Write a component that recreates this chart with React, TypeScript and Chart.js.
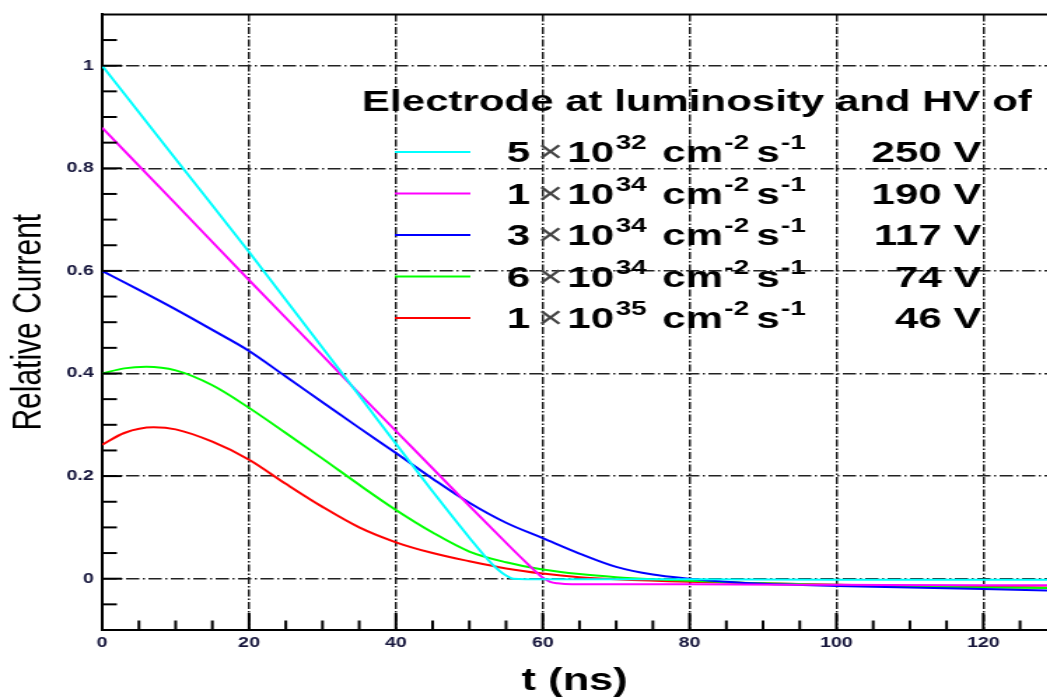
import React, { useEffect, useRef } from 'react';
import { Chart, registerables } from 'chart.js';

Chart.register(...registerables);

// ---------- data ----------
const tCyan = [0, 10, 20, 30, 35, 40, 45, 50, 53, 55, 56, 60, 70, 80, 100, 120, 128.7];
const yCyan = [1.0, 0.818, 0.637, 0.45, 0.357, 0.263, 0.17, 0.08, 0.03, 0.006, 0.0, -0.001, -0.001, -0.001, -0.002, -0.002, -0.002];

const tMagenta = [0, 10, 20, 30, 35, 40, 45, 50, 55, 58, 60, 61, 62, 64, 70, 80, 100, 120, 128.7];
const yMagenta = [0.879, 0.731, 0.582, 0.435, 0.361, 0.288, 0.215, 0.142, 0.07, 0.028, 0.002, -0.006, -0.009, -0.011, -0.011, -0.011, -0.012, -0.013, -0.013];

const tBlue = [0, 5, 10, 15, 20, 25, 30, 35, 40, 45, 50, 55, 60, 65, 70, 75, 80, 85, 90, 100, 110, 120, 128.7];
const yBlue = [0.6, 0.563, 0.525, 0.485, 0.444, 0.394, 0.344, 0.294, 0.245, 0.195, 0.148, 0.109, 0.079, 0.049, 0.023, 0.008, 0.0, -0.006, -0.01, -0.014, -0.017, -0.02, -0.023];

const tGreen = [0, 3, 6, 10, 15, 20, 25, 30, 35, 40, 45, 50, 55, 60, 65, 70, 75, 80, 90, 100, 110, 120, 128.7];
const yGreen = [0.4, 0.41, 0.413, 0.406, 0.377, 0.333, 0.284, 0.234, 0.183, 0.134, 0.09, 0.053, 0.032, 0.018, 0.009, 0.003, -0.001, -0.004, -0.009, -0.012, -0.015, -0.017, -0.018];

const tRed = [0, 3, 7, 10, 15, 20, 25, 30, 35, 40, 45, 50, 55, 60, 65, 70, 80, 90, 100, 110, 120, 128.7];
const yRed = [0.261, 0.284, 0.295, 0.291, 0.267, 0.232, 0.185, 0.14, 0.1, 0.071, 0.05, 0.034, 0.02, 0.01, 0.003, -0.001, -0.006, -0.009, -0.012, -0.014, -0.016, -0.017];

const seriesT = [tCyan, tMagenta, tBlue, tGreen, tRed];
const seriesY = [yCyan, yMagenta, yBlue, yGreen, yRed];
const seriesColors = ['#00ffff', '#ff00ff', '#0000ff', '#00ff00', '#ff0000'];

const legendTitle = 'Electrode at luminosity and HV of';
const legendMantissa = ['5', '1', '3', '6', '1'];
const legendExponent = ['32', '34', '34', '34', '35'];
const legendHV = ['250 V', '190 V', '117 V', '74 V', '46 V'];

const xTitle = 't (ns)';
const yTitle = 'Relative Current';

const xTickValues = [0, 20, 40, 60, 80, 100, 120];
const yTickValues = [0, 0.2, 0.4, 0.6, 0.8, 1];

const X_MIN = 0;
const X_MAX = 128.7;
const Y_MIN = -0.1;
const Y_MAX = 1.1;
const X_MINOR = 5;
const Y_MINOR = 0.05;

// ---------- layout ----------
const STRETCH = 1.4;
const OUT_W = 1047;
const OUT_H = 698;
const W = Math.round(OUT_W / STRETCH);
const FAMILY = "'Liberation Sans', Arial, Helvetica, sans-serif";
const GRID = '#222222';
const TICK_COLOR = '#16163c';

const frameTicksPlugin = {
  id: 'frameTicks',
  afterDatasetsDraw(chart: any) {
    const { ctx, chartArea, scales } = chart;
    const { left, right, top, bottom } = chartArea;
    ctx.save();
    ctx.strokeStyle = '#000';
    ctx.lineWidth = 2;
    const nY0 = Math.ceil(Y_MIN / Y_MINOR - 1e-6);
    const nY1 = Math.floor(Y_MAX / Y_MINOR + 1e-6);
    for (let k = nY0; k <= nY1; k++) {
      const py = scales.y.getPixelForValue(k * Y_MINOR);
      if (py < top + 1 || py > bottom - 1) continue;
      const len = k % 4 === 0 ? 14 : 10.5;
      ctx.beginPath();
      ctx.moveTo(left, py);
      ctx.lineTo(left + len, py);
      ctx.stroke();
    }
    const nX1 = Math.floor(X_MAX / X_MINOR + 1e-6);
    for (let k = 0; k <= nX1; k++) {
      const px = scales.x.getPixelForValue(k * X_MINOR);
      if (px < left + 1 || px > right - 1) continue;
      const len = k % 4 === 0 ? 17 : 9.5;
      ctx.beginPath();
      ctx.moveTo(px, bottom);
      ctx.lineTo(px, bottom - len);
      ctx.stroke();
    }
    ctx.beginPath();
    ctx.moveTo(left - 1, top);
    ctx.lineTo(right, top);
    ctx.stroke();
    ctx.restore();
  },
};

const legendPlugin = {
  id: 'rootLegend',
  afterDraw(chart: any) {
    const ctx = chart.ctx;
    ctx.save();
    ctx.textBaseline = 'alphabetic';
    ctx.textAlign = 'left';
    ctx.fillStyle = '#000';
    ctx.font = `bold 30px ${FAMILY}`;
    ctx.fillText(legendTitle, 258.6, 111);

    const lineX0 = 282;
    const lineX1 = 336;
    const y0 = 152;
    const dy = 41.5;
    const big = `bold 30px ${FAMILY}`;
    const sup = `bold 20px ${FAMILY}`;
    chart.data.datasets.forEach((ds: any, i: number) => {
      const ly = y0 + i * dy;
      ctx.strokeStyle = ds.borderColor;
      ctx.lineWidth = 2;
      ctx.beginPath();
      ctx.moveTo(lineX0, ly);
      ctx.lineTo(lineX1, ly);
      ctx.stroke();

      const base = ly + 10;
      const supBase = base - 13;
      let x = 362;
      ctx.fillStyle = '#000';
      ctx.font = big;
      ctx.fillText(legendMantissa[i], x, base);
      x += ctx.measureText(legendMantissa[i]).width + 5;
      ctx.font = `normal 32px ${FAMILY}`;
      ctx.fillStyle = '#444';
      ctx.fillText('\u00d7', x, base);
      x += ctx.measureText('\u00d7').width + 3;
      ctx.fillStyle = '#000';
      ctx.font = big;
      ctx.fillText('10', x, base);
      x += ctx.measureText('10').width + 1;
      ctx.font = sup;
      ctx.fillText(legendExponent[i], x, supBase);
      x += ctx.measureText(legendExponent[i]).width + 11;
      ctx.font = big;
      ctx.fillText('cm', x, base);
      x += ctx.measureText('cm').width + 1;
      ctx.font = sup;
      ctx.fillText('-2', x, supBase);
      x += ctx.measureText('-2').width + 5;
      ctx.font = big;
      ctx.fillText('s', x, base);
      x += ctx.measureText('s').width + 1;
      ctx.font = sup;
      ctx.fillText('-1', x, supBase);

      ctx.font = big;
      ctx.textAlign = 'right';
      ctx.fillText(legendHV[i], 701, base);
      ctx.textAlign = 'left';
    });
    ctx.restore();
  },
};

export default function App() {
  const canvasRef = useRef<HTMLCanvasElement | null>(null);

  useEffect(() => {
    const canvas = canvasRef.current;
    if (!canvas) return;
    const datasets = seriesT.map((ts, i) => ({
      label: `${legendMantissa[i]} \u00d7 10^${legendExponent[i]} cm^-2 s^-1 ${legendHV[i]}`,
      data: ts.map((t, j) => ({ x: t, y: seriesY[i][j] })),
      borderColor: seriesColors[i],
      backgroundColor: seriesColors[i],
      borderWidth: 2,
      pointRadius: 0,
      fill: false,
      cubicInterpolationMode: 'monotone',
    }));

    const chart = new Chart(canvas, {
      type: 'line',
      data: { datasets },
      plugins: [frameTicksPlugin, legendPlugin],
      options: {
        responsive: false,
        animation: false,
        devicePixelRatio: 1,
        layout: { padding: { top: 6, right: 0, bottom: 0, left: 0 } },
        plugins: {
          legend: { display: false },
          tooltip: { enabled: false },
          title: { display: false },
        },
        scales: {
          x: {
            type: 'linear',
            min: X_MIN,
            max: X_MAX,
            afterBuildTicks: (scale: any) => {
              scale.ticks = xTickValues.map((v) => ({ value: v }));
            },
            ticks: {
              autoSkip: false,
              maxRotation: 0,
              padding: 5,
              color: TICK_COLOR,
              font: { family: FAMILY, size: 14, weight: 'bold' },
              callback: (v: any) => String(Math.round(Number(v))),
            },
            grid: { color: GRID, lineWidth: 1.5, drawTicks: false },
            border: { display: true, color: '#000', width: 2, dash: [7, 2, 1.5, 2] },
            title: {
              display: true,
              text: xTitle,
              color: '#000',
              font: { family: FAMILY, size: 31, weight: 'bold', lineHeight: 1 },
              padding: { top: 0, bottom: 1.5 },
            },
            afterFit: (scale: any) => {
              scale.height = OUT_H - 630;
            },
          },
          y: {
            type: 'linear',
            min: Y_MIN,
            max: Y_MAX,
            afterBuildTicks: (scale: any) => {
              scale.ticks = yTickValues.map((v) => ({ value: v }));
            },
            ticks: {
              autoSkip: false,
              padding: 6,
              color: TICK_COLOR,
              font: { family: FAMILY, size: 14, weight: 'bold' },
              callback: (v: any) => String(Math.round(Number(v) * 10) / 10),
            },
            grid: { color: GRID, lineWidth: 1.5, drawTicks: false },
            border: { display: true, color: '#000', width: 2, dash: [9.5, 2.5, 1.5, 2.5] },
            title: {
              display: true,
              text: yTitle,
              color: '#000',
              font: { family: FAMILY, size: 30, weight: 'normal', lineHeight: 1.2 },
              padding: { top: 3, bottom: 0 },
            },
            afterFit: (scale: any) => {
              scale.width = 73;
            },
          },
        },
      } as any,
    });
    return () => chart.destroy();
  }, []);

  return (
    <div
      style={{
        position: 'absolute',
        left: 0,
        top: 0,
        width: OUT_W,
        height: OUT_H,
        overflow: 'hidden',
        background: '#fff',
      }}
    >
      <div
        style={{
          width: W,
          height: OUT_H,
          transform: `scaleX(${STRETCH})`,
          transformOrigin: '0 0',
        }}
      >
        <canvas ref={canvasRef} width={W} height={OUT_H} style={{ display: 'block' }} />
      </div>
    </div>
  );
}
